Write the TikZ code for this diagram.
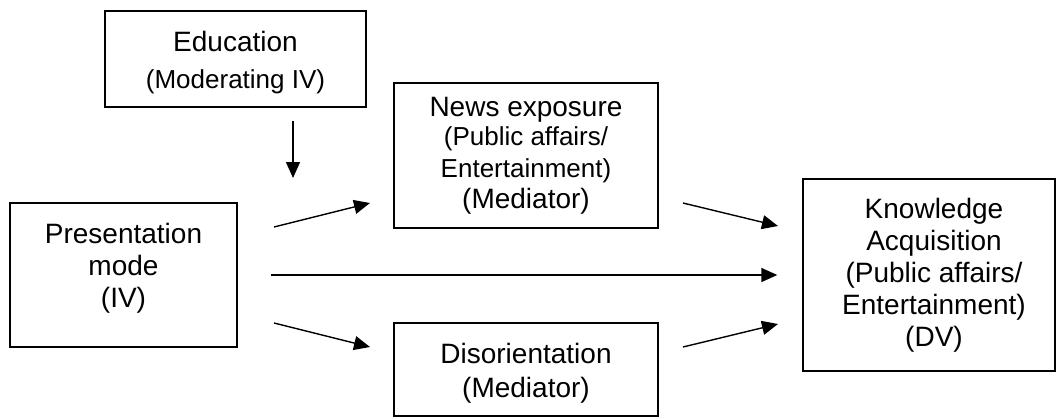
\documentclass[tikz,border=0pt]{standalone}
\usepackage{fontspec}
\setmainfont{Liberation Sans}
\usetikzlibrary{arrows.meta}
\begin{document}
\begin{tikzpicture}[x=1pt,y=1pt,
  box/.style={draw, line width=1.4pt, inner sep=0pt, align=center, font=\fontsize{28}{32}\selectfont},
  arr/.style={line width=1.4pt, -{Triangle[length=16pt,width=14pt]}}]
\useasboundingbox (0,0) rectangle (1057,-418);
\node[box, minimum width=261, minimum height=96] (edu) at (235.5,-59)
  {\rule{0pt}{28pt}Education\\[5pt]{\fontsize{26}{30}\selectfont (Moderating IV)}};
\node[box, minimum width=264, minimum height=145] (news) at (526,-155.5)
  {News exposure\\[-3pt]{\fontsize{26}{28}\selectfont (Public affairs/}\\{\fontsize{26}{28}\selectfont Entertainment)}\\[-1pt](Mediator)};
\node[box, minimum width=227, minimum height=144] (pm) at (123.5,-275)
  {Presentation\\mode\\(IV)\\[-12pt]\mbox{}};
\node[box, minimum width=264, minimum height=93] (dis) at (526,-369.5)
  {\rule{0pt}{27pt}Disorientation\\[2pt](Mediator)};
\node[box, minimum width=252, minimum height=192] (ka) at (929,-275)
  {\hspace*{10pt}Knowledge\\\hspace*{10pt}Acquisition\\\hspace*{10pt}(Public affairs/\\\hspace*{10pt}Entertainment)\\\hspace*{10pt}(DV)};
\coordinate (m1) at (293,-121);
\coordinate (m2) at (293,-178);
\coordinate (a1s) at (274,-227);
\coordinate (a1e) at (370,-203);
\coordinate (a2s) at (274,-323);
\coordinate (a2e) at (370,-347);
\coordinate (a3s) at (683,-203);
\coordinate (a3e) at (778,-226);
\coordinate (a4s) at (683,-347);
\coordinate (a4e) at (778,-324);
\draw[arr] (m1) -- (m2);
\draw[arr] (a1s) -- (a1e);
\draw[arr] (a2s) -- (a2e);
\draw[arr] (a3s) -- (a3e);
\draw[arr] (a4s) -- (a4e);
\draw[arr, shorten <=33pt, shorten >=25pt] (pm.east) -- (ka.west);
\end{tikzpicture}
\end{document}
